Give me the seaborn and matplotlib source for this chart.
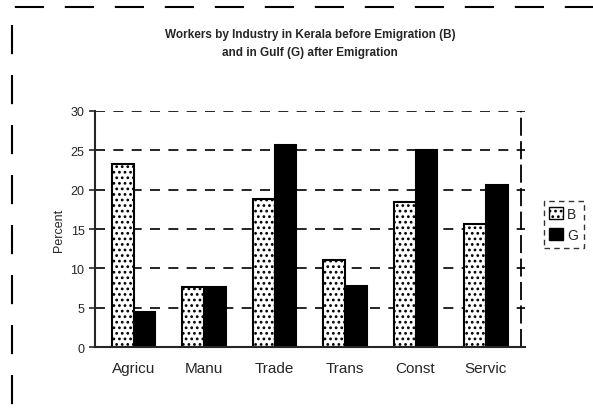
import pandas as pd
import seaborn as sns
import matplotlib.pyplot as plt
from matplotlib.patches import Rectangle

# Values (percent of workers)
industries = ['Agricu', 'Manu', 'Trade', 'Trans', 'Const', 'Servic']
before_kerala = [23.3, 7.6, 18.8, 11.0, 18.4, 15.6]
after_gulf = [4.4, 7.6, 25.7, 7.8, 25.0, 20.6]
yticks = [0, 5, 10, 15, 20, 25, 30]

df = pd.DataFrame({
    'industry': industries * 2,
    'period': ['B'] * len(industries) + ['G'] * len(industries),
    'percent': before_kerala + after_gulf,
})

sns.set_style('white')
plt.rcParams['font.family'] = ['Liberation Sans', 'DejaVu Sans']
plt.rcParams['hatch.linewidth'] = 1.2

fig = plt.figure(figsize=(5.93, 4.10), dpi=100)
ax = fig.add_axes([0.16, 0.151, 0.725, 0.576])

sns.barplot(data=df, x='industry', y='percent', hue='period',
            palette={'B': 'white', 'G': 'black'}, width=0.62,
            edgecolor='black', linewidth=1.5, ax=ax, legend=False)

# stipple the "before" bars
for bar in ax.containers[0]:
    bar.set_hatch('...')

ax.set_ylim(0, 30)
ax.set_yticks(yticks)
ax.set_xlim(-0.55, 5.55)
ax.set_xlabel('')
ax.set_ylabel('Percent', fontsize=9)
ax.tick_params(axis='y', labelsize=9, length=4, width=1.2, left=True)
ax.tick_params(axis='x', labelsize=11, length=0, pad=10)
ax.yaxis.grid(True, linestyle=(0, (6, 5)), color='black', linewidth=1.2)
ax.set_axisbelow(True)
for side in ['top', 'right']:
    ax.spines[side].set_visible(False)
ax.spines['left'].set_linewidth(1.5)
ax.spines['bottom'].set_linewidth(1.5)
ax.axvline(5.5, color='black', linewidth=1.3, linestyle=(0, (10, 3)))

ax.set_title('Workers by Industry in Kerala before Emigration (B)\n'
             'and in Gulf (G) after Emigration',
             fontsize=8.5, fontweight='bold', pad=40, linespacing=1.7)

# legend
handles = [Rectangle((0, 0), 1, 1, facecolor='white', edgecolor='black', hatch='...'),
           Rectangle((0, 0), 1, 1, facecolor='black', edgecolor='black')]
leg = fig.legend(handles, ['B', 'G'], loc='center left',
                 bbox_to_anchor=(0.905, 0.45), frameon=True, fontsize=10,
                 handlelength=1.0, handleheight=1.0, handletextpad=0.3,
                 borderpad=0.4, labelspacing=0.5, fancybox=False)
leg.get_frame().set_edgecolor('black')
leg.get_frame().set_linestyle((0, (4, 3)))

# dashed page frame from the scan
frame = Rectangle((0.02, -0.05), 1.0, 1.03, transform=fig.transFigure,
                  fill=False, edgecolor='black', linewidth=1.5,
                  linestyle=(0, (14, 10)), clip_on=False)
fig.patches.append(frame)

fig.savefig('out.png', dpi=100)
